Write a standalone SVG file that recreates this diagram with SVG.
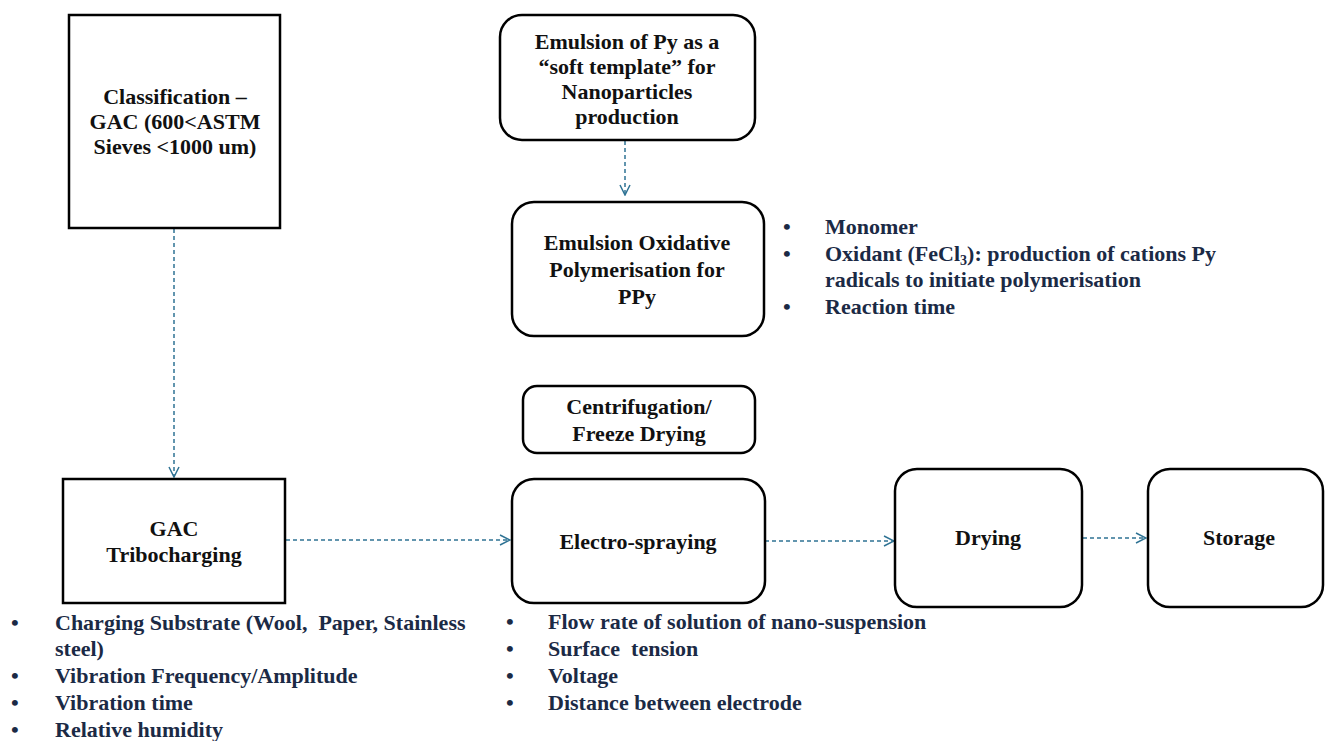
<svg xmlns="http://www.w3.org/2000/svg" width="1325" height="741" viewBox="0 0 1325 741">
<defs>
<style>
.box{fill:#fff;stroke:#000;stroke-width:2.5}
.lbl{font-family:"Liberation Serif","Times New Roman",serif;font-weight:bold;font-size:22px;fill:#111;text-anchor:middle}
.bl{font-family:"Liberation Serif","Times New Roman",serif;font-weight:bold;font-size:22px;fill:#1b2a45;white-space:pre}
.con{fill:none;stroke:#2f7394;stroke-width:1.5;stroke-dasharray:4 3}
</style>
<marker id="ah" viewBox="0 0 12 12" refX="11" refY="6" markerWidth="12" markerHeight="12" markerUnits="userSpaceOnUse" orient="auto">
<path d="M1,1 L11,6 L1,11" fill="none" stroke="#2f7394" stroke-width="1.5"/>
</marker>
</defs>
<g id="connectors">
<path class="con" d="M174,229 V477" marker-end="url(#ah)"/>
<path class="con" d="M625,141 V195" marker-end="url(#ah)"/>
<path class="con" d="M286,540 H510" marker-end="url(#ah)"/>
<path class="con" d="M765,541 H894" marker-end="url(#ah)"/>
<path class="con" d="M1083,538 H1146" marker-end="url(#ah)"/>
</g>
<g id="classification">
<rect class="box" x="69" y="15" width="211" height="213"/>
<text class="lbl" x="175" y="104">Classification –</text>
<text class="lbl" x="175" y="129">GAC (600&lt;ASTM</text>
<text class="lbl" x="175" y="154">Sieves &lt;1000 um)</text>
</g>
<g id="emulsion-py">
<rect class="box" x="500" y="15" width="255" height="125" rx="22"/>
<text class="lbl" x="627" y="49">Emulsion of Py as a</text>
<text class="lbl" x="627" y="74">“soft template” for</text>
<text class="lbl" x="627" y="99">Nanoparticles</text>
<text class="lbl" x="627" y="124">production</text>
</g>
<g id="emulsion-oxidative">
<rect class="box" x="512" y="202" width="252" height="134" rx="22"/>
<text class="lbl" x="637" y="250">Emulsion Oxidative</text>
<text class="lbl" x="637" y="277">Polymerisation for</text>
<text class="lbl" x="637" y="304">PPy</text>
</g>
<g id="polymerisation-params">
<text class="bl" x="783" y="234">•</text>
<text class="bl" x="825" y="234">Monomer</text>
<text class="bl" x="783" y="261">•</text>
<text class="bl" x="825" y="261">Oxidant (FeCl<tspan font-size="14" dy="4">3</tspan><tspan dy="-4">): production of cations Py</tspan></text>
<text class="bl" x="825" y="287">radicals to initiate polymerisation</text>
<text class="bl" x="783" y="314">•</text>
<text class="bl" x="825" y="314">Reaction time</text>
</g>
<g id="centrifugation">
<rect class="box" x="523" y="386" width="232" height="67" rx="14"/>
<text class="lbl" x="639" y="414">Centrifugation/</text>
<text class="lbl" x="639" y="441">Freeze Drying</text>
</g>
<g id="gac-tribocharging">
<rect class="box" x="63" y="479" width="222" height="124"/>
<text class="lbl" x="174" y="536">GAC</text>
<text class="lbl" x="174" y="562">Tribocharging</text>
</g>
<g id="electro-spraying">
<rect class="box" x="512" y="479" width="253" height="124" rx="22"/>
<text class="lbl" x="638" y="549">Electro-spraying</text>
</g>
<g id="drying">
<rect class="box" x="895" y="469" width="187" height="138" rx="22"/>
<text class="lbl" x="988" y="545">Drying</text>
</g>
<g id="storage">
<rect class="box" x="1148" y="469" width="175" height="138" rx="22"/>
<text class="lbl" x="1239" y="545">Storage</text>
</g>
<g id="tribocharging-params">
<text class="bl" x="11" y="630">•</text>
<text class="bl" x="55" y="630">Charging Substrate (Wool,  Paper, Stainless</text>
<text class="bl" x="55" y="656">steel)</text>
<text class="bl" x="11" y="683">•</text>
<text class="bl" x="55" y="683">Vibration Frequency/Amplitude</text>
<text class="bl" x="11" y="710">•</text>
<text class="bl" x="55" y="710">Vibration time</text>
<text class="bl" x="11" y="737">•</text>
<text class="bl" x="55" y="737">Relative humidity</text>
</g>
<g id="electrospraying-params">
<text class="bl" x="506" y="629">•</text>
<text class="bl" x="548" y="629">Flow rate of solution of nano-suspension</text>
<text class="bl" x="506" y="656">•</text>
<text class="bl" x="548" y="656">Surface  tension</text>
<text class="bl" x="506" y="683">•</text>
<text class="bl" x="548" y="683">Voltage</text>
<text class="bl" x="506" y="710">•</text>
<text class="bl" x="548" y="710">Distance between electrode</text>
</g>
</svg>
